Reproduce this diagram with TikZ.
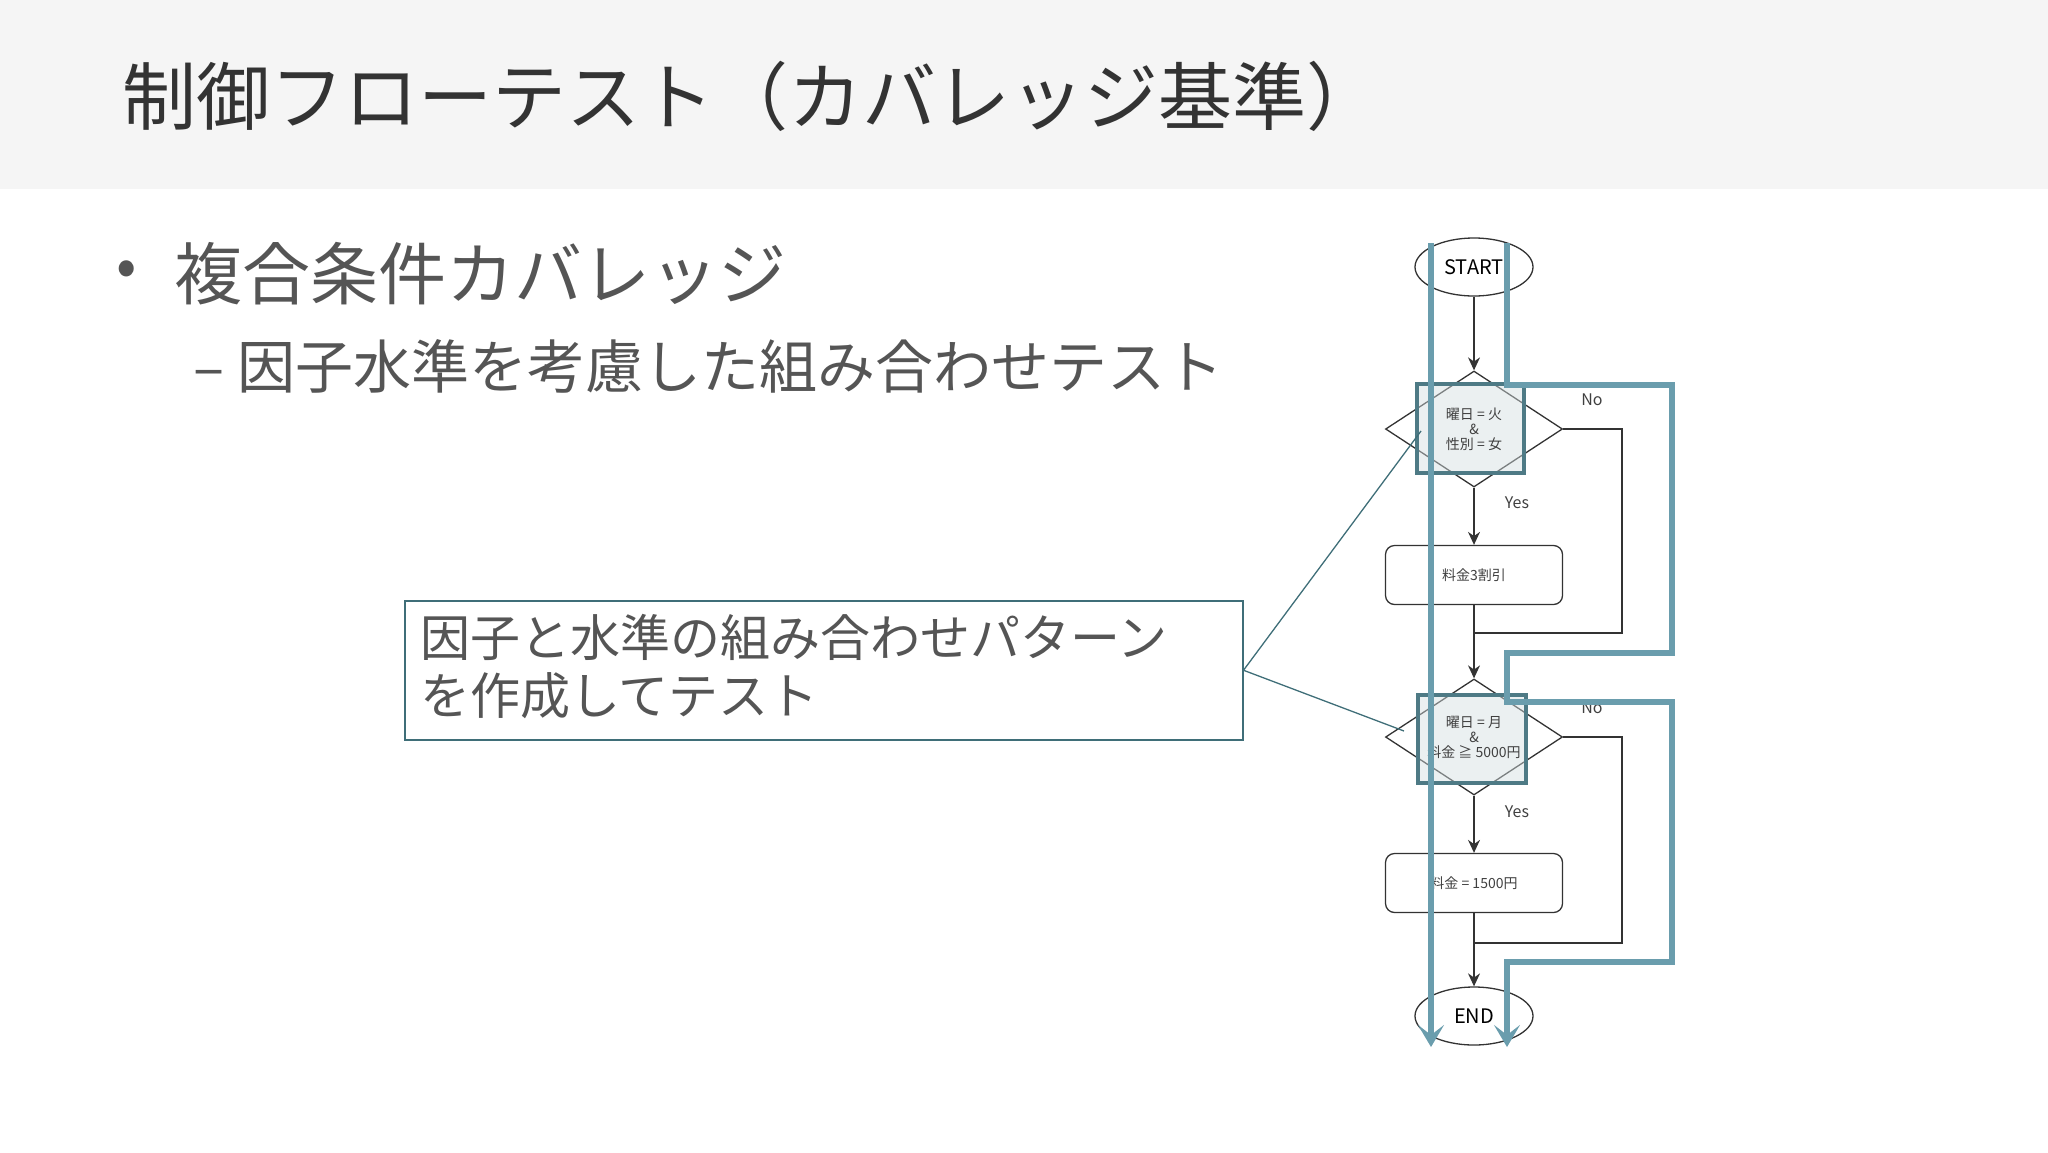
\documentclass[tikz,border=0pt]{standalone}
\usepackage{fontspec}
\setmainfont{Noto Sans CJK JP}
\usetikzlibrary{shapes.geometric,arrows.meta}
\definecolor{hdr}{HTML}{F5F5F5}
\definecolor{txt}{HTML}{555555}
\definecolor{tealb}{HTML}{3F6E78}
\definecolor{path}{HTML}{6A9DAD}
\definecolor{hl}{HTML}{4E7A85}
\begin{document}
\begin{tikzpicture}[x=1pt,y=-1pt,
  flow/.style={draw=black!80,line width=1.3pt},
  arr/.style={flow,-{Stealth[length=13pt,width=12pt]}},
  term/.style={draw=black!80,line width=1.3pt,ellipse,minimum width=118pt,minimum height=58pt,inner sep=0pt,font=\fontsize{20}{22}\selectfont},
  dia/.style={draw=black!80,line width=1.3pt,diamond,minimum width=177pt,minimum height=116pt,aspect=1.53,inner sep=0pt},
  proc/.style={draw=black!80,line width=1.3pt,rounded corners=9pt,minimum width=177pt,minimum height=59pt,inner sep=0pt,font=\fontsize{14}{16}\selectfont,text=black!75},
  hlbox/.style={draw=hl,line width=4pt,fill=hl!25,fill opacity=0.45,draw opacity=1},
  small/.style={font=\fontsize{14}{17}\selectfont,text=black!75,align=center},
  lbl/.style={font=\fontsize{16}{18}\selectfont,text=black!75},
  tpath/.style={draw=path,line width=6pt},
  tarr/.style={tpath,-{Stealth[length=22pt,width=26pt,inset=10pt]}}]
\useasboundingbox (0,0) rectangle (2048,1152);
\fill[hdr] (0,0) rectangle (2048,189);
\node[anchor=base west,inner sep=0pt,font=\fontsize{74}{80}\selectfont,text=black!80] (title) at (122,124) {制御フローテスト（カバレッジ基準）};
\node[anchor=west,inner sep=0pt,font=\fontsize{60}{64}\selectfont,text=txt] (bul) at (116,274) {•};
\node[anchor=west,inner sep=0pt,font=\fontsize{68}{72}\selectfont,text=txt] (l1) at (174,274) {複合条件カバレッジ};
\node[anchor=west,inner sep=0pt,font=\fontsize{58}{62}\selectfont,text=txt] (l2) at (193,366) {– 因子水準を考慮した組み合わせテスト};
% callout
\node[draw=tealb,line width=1.5pt,minimum width=838pt,minimum height=139pt,anchor=north west,inner sep=0pt] (call) at (404,600) {};
\node[anchor=north west,inner sep=0pt,align=left,font=\fontsize{50}{58}\selectfont,text=txt] (calltxt) at (420,614) {因子と水準の組み合わせパターン\\を作成してテスト};
\coordinate (c1) at (1421,431);
\coordinate (c2) at (1404,731);
% flowchart
\node[term] (start) at (1474,267) {START};
\node[dia] (d1) at (1474,429) {};
\node[proc] (p1) at (1474,575) {料金3割引};
\node[dia] (d2) at (1474,737) {};
\node[proc] (p2) at (1474,883) {料金 = 1500円};
\node[term] (end) at (1474,1016) {END};
\coordinate (m1) at (1474,633);
\coordinate (m2) at (1474,943);
\coordinate (r1) at (1622,429);
\coordinate (r2) at (1622,737);
\draw[arr] (start) -- (d1.north);
\draw[arr] (d1.south) -- (p1.north);
\draw[flow] (p1.south) -- (m1);
\draw[flow] (d1.east) -- (r1) |- (m1);
\draw[arr] (m1) -- (d2.north);
\draw[arr] (d2.south) -- (p2.north);
\draw[flow] (p2.south) -- (m2);
\draw[flow] (d2.east) -- (r2) |- (m2);
\draw[arr] (m2) -- (end.north);
\node[lbl] (y1) at (1517,503) {Yes};
\node[lbl] (n1) at (1592,400) {No};
\node[lbl] (y2) at (1517,812) {Yes};
\node[lbl] (n2) at (1592,708) {No};
% highlight boxes
\draw[hlbox] (1417,384) rectangle (1524,473);
\draw[hlbox] (1418,695) rectangle (1526,783);
\node[small] (t1) at (1474,429) {曜日 = 火\\[-2pt]\&\\[-2pt]性別 = 女};
\node[small] (t2) at (1474,737) {曜日 = 月\\[-2pt]\&\\[-2pt]料金 ≧ 5000円};
% callout lines
\draw[tealb,line width=1.3pt] (call.east) -- (c1);
\draw[tealb,line width=1.3pt] (call.east) -- (c2);
% paths
\coordinate (a0) at (1431,243);
\coordinate (a1) at (1431,1047);
\coordinate (b0) at (1507,243);
\coordinate (b1) at (1507,1047);
\draw[tarr] (a0) -- (a1);
\draw[tarr,line join=miter] (b0) -- (1507,385) -- (1672,385) -- (1672,653) -- (1507,653) -- (1507,702) -- (1672,702) -- (1672,962) -- (1507,962) -- (b1);
\end{tikzpicture}
\end{document}
